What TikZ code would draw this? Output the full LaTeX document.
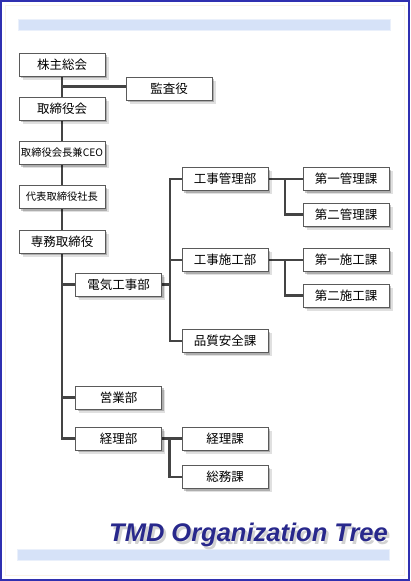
\documentclass[tikz,border=0pt]{standalone}
\usepackage{fontspec}
\setmainfont{Liberation Sans}
\newfontfamily\jp{Noto Sans CJK JP}
\usetikzlibrary{shadows,calc,backgrounds}
\definecolor{frameblue}{RGB}{48,48,176}
\definecolor{barblue}{RGB}{214,226,248}
\definecolor{titleblue}{RGB}{40,40,140}
\definecolor{linegray}{RGB}{68,68,68}
\definecolor{boxedge}{RGB}{90,90,90}
\definecolor{faint}{RGB}{250,244,230}
\tikzset{
  orgbox/.style={draw=boxedge, line width=0.8pt, fill=white,
    minimum width=86pt, minimum height=23pt, inner sep=0pt,
    font=\jp\fontsize{12.5}{12.5}\selectfont,
    general shadow={fill=black, opacity=0.12, shadow xshift=3.5pt, shadow yshift=-3.5pt},
    general shadow={fill=black, opacity=0.22, shadow xshift=2pt, shadow yshift=-2pt}},
  smalltext/.style={font=\jp\fontsize{10.3}{10.3}\selectfont},
  conn/.style={draw=linegray, line width=2.6pt, line join=miter},
  titletext/.style={font=\bfseries\itshape\fontsize{25.5}{25.5}\selectfont, inner sep=0pt, anchor=base}
}
\begin{document}
\begin{tikzpicture}[x=1pt,y=-1pt]
\useasboundingbox (0,0) rectangle (410,581);
% nodes
\path
  (62,64.5)   node[orgbox] (kabu) {株主総会}
  (169,88.5)  node[orgbox] (kansa) {監査役}
  (62,108.5)  node[orgbox] (tori) {取締役会}
  (62,153)    node[orgbox, smalltext] (ceo) {取締役会長兼CEO}
  (62,197)    node[orgbox, smalltext] (shacho) {代表取締役社長}
  (62,241.5)  node[orgbox] (senmu) {専務取締役}
  (118.5,284.5) node[orgbox] (denki) {電気工事部}
  (225,179)   node[orgbox] (kanri) {工事管理部}
  (225,260)   node[orgbox] (seko) {工事施工部}
  (225,341)   node[orgbox] (hin) {品質安全課}
  (346,179)   node[orgbox] (k1) {第一管理課}
  (346,214.5) node[orgbox] (k2) {第二管理課}
  (346,260)   node[orgbox] (s1) {第一施工課}
  (346,295.5) node[orgbox] (s2) {第二施工課}
  (118.5,397.5) node[orgbox] (eigyo) {営業部}
  (118.5,438.5) node[orgbox] (keiri) {経理部}
  (225,438.5) node[orgbox] (keirika) {経理課}
  (225,477)   node[orgbox] (somu) {総務課};
% title with shadow
\node[titletext, text=black!35, opacity=0.5] (titleshadow) at (251,544.5) {TMD Organization Tree};
\node[titletext, text=titleblue] (title) at (248.5,541) {TMD Organization Tree};
\begin{pgfonlayer}{background}
\fill[white] (0,0) rectangle (410,581);
\draw[faint, line width=1pt] (5.5,5.5) rectangle (404.5,575.5);
\draw[frameblue, line width=2pt] (1,1) rectangle (409,580);
% bars
\fill[barblue, opacity=0.5] (18,19) rectangle (391,31);
\fill[barblue] (19,20) rectangle (390,30);
\fill[barblue, opacity=0.5] (17,549) rectangle (390,561);
\fill[barblue] (18,550) rectangle (389,560);
% vertical line positions
\coordinate (dv) at (170,0);
\coordinate (kv) at (285,0);
\coordinate (ev) at (169.5,0);
% connectors
\path[conn] (kabu.center) |- (keiri.west);
\path[conn] ($(kabu.center |- kansa.west)+(0,-2)$) -- ($(kansa.west)+(0,-2)$);
\path[conn] (kabu.center |- denki.west) -- (denki.west);
\path[conn] (kabu.center |- eigyo.west) -- (eigyo.west);
\path[conn] (denki.east) -- (denki.east -| dv);
\path[conn] (kanri.west) -| (dv |- hin.west) -- (hin.west);
\path[conn] (dv |- seko.west) -- (seko.west);
\path[conn] (kanri.east) -- (k1.west);
\path[conn] (kv |- kanri.east) |- (k2.west);
\path[conn] (seko.east) -- (s1.west);
\path[conn] (kv |- seko.east) |- (s2.west);
\path[conn] (keiri.east) -- (keirika.west);
\path[conn] (ev |- keiri.east) |- (somu.west);
\end{pgfonlayer}
\end{tikzpicture}
\end{document}
